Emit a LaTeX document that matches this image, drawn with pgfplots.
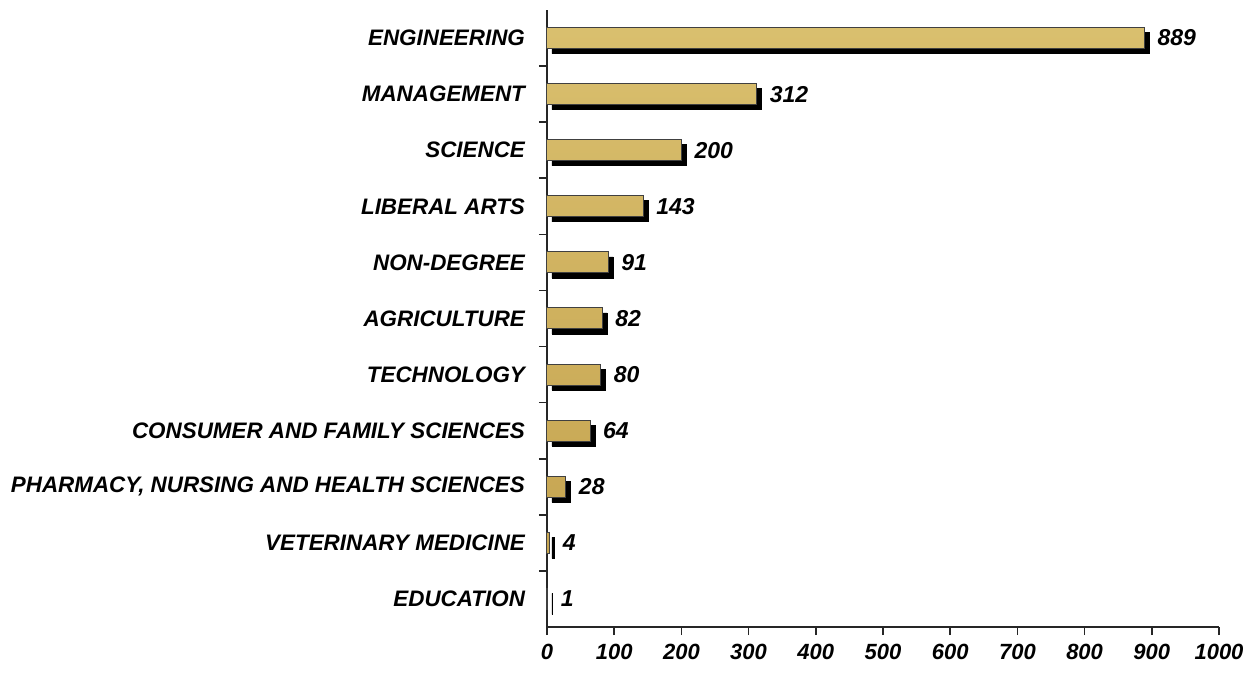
\documentclass[border=0pt]{standalone}
\usepackage{pgfplots}
\pgfplotsset{compat=1.18}
\usepackage{fontspec}
\setmainfont{Liberation Sans}
\definecolor{goldT}{HTML}{D9BF6E}
\definecolor{goldL}{HTML}{EEDC98}
\definecolor{goldD}{HTML}{C4A24E}
\begin{document}
\begin{tikzpicture}
\useasboundingbox (-273.5pt,-26.5pt) rectangle (354.5pt,313.5pt);
\begin{axis}[
  at={(0,0)}, anchor=south west,
  scale only axis,
  width=336pt, height=308.5pt,
  xbar, bar width=10.5pt,
  xmin=0, xmax=1000,
  ymin=-0.5, ymax=10.5,
  axis lines=left,
  axis line style={-, line width=1pt, black!85},
  xtick={0,100,...,1000},
  ytick={0.5,1.5,...,9.5},
  yticklabels={},
  tick align=outside,
  major tick length=4pt,
  tick style={line width=0.8pt, black!85},
  extra y ticks={0,1,2,3,4,5,6,7,8,9,10},
  extra y tick labels={EDUCATION,VETERINARY MEDICINE,{PHARMACY, NURSING AND HEALTH SCIENCES},CONSUMER AND FAMILY SCIENCES,TECHNOLOGY,AGRICULTURE,NON-DEGREE,LIBERAL ARTS,SCIENCE,MANAGEMENT,ENGINEERING},
  extra y tick style={tick style={draw=none}, yticklabel style={xshift=-3.5pt}},
  yticklabel style={font=\fontsize{11.2}{12}\selectfont\bfseries\itshape},
  xticklabel style={font=\fontsize{11}{12}\selectfont\bfseries\itshape, yshift=-1pt},
  /pgf/number format/assume math mode=true,
  /pgf/number format/1000 sep={},
  clip=false,
]
\addplot[fill=black, draw=black, bar shift=-2.5pt, xshift=2.5pt] coordinates {
 (1,0) (4,1) (28,2) (64,3) (80,4) (82,5) (91,6) (143,7) (200,8) (312,9) (889,10)};
\addplot[shading=axis, top color=goldT, middle color=goldL, bottom color=goldD, draw=black!75, line width=0.5pt,
  bar shift=0pt,
  nodes near coords,
  nodes near coords style={font=\fontsize{11.5}{12}\selectfont\bfseries\itshape, black, anchor=west, xshift=3pt}] coordinates {
 (1,0) (4,1) (28,2) (64,3) (80,4) (82,5) (91,6) (143,7) (200,8) (312,9) (889,10)};
\end{axis}
\end{tikzpicture}
\end{document}
